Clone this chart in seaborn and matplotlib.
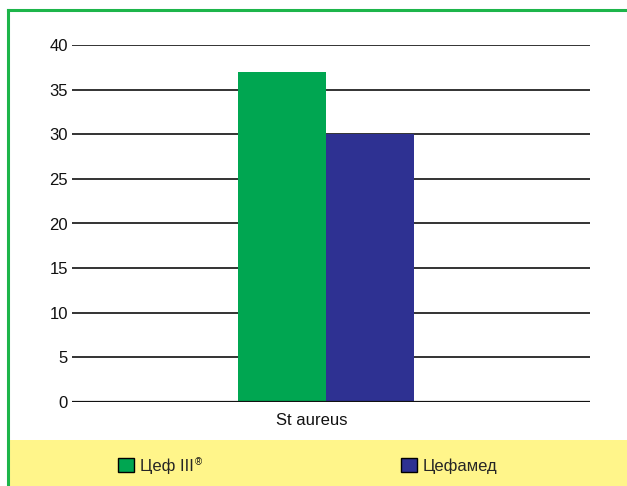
import matplotlib
matplotlib.use("Agg")
import matplotlib.pyplot as plt
import matplotlib.transforms as mtransforms
import seaborn as sns
import pandas as pd
from matplotlib.lines import Line2D
from matplotlib.patches import Rectangle

categories = ["St aureus"]
series_names = ["Цеф III", "Цефамед"]
values_cef3 = [37]
values_cefamed = [30]
y_ticks = [0, 5, 10, 15, 20, 25, 30, 35, 40]

df = pd.DataFrame({
    "cat": categories * 2,
    "series": [series_names[0]] * len(categories) + [series_names[1]] * len(categories),
    "value": values_cef3 + values_cefamed,
})

sns.set_theme(style="white")
plt.rcParams["font.family"] = ["Liberation Sans Narrow", "Liberation Sans", "DejaVu Sans"]

W, H = 627, 486
fig = plt.figure(figsize=(6.27, 4.86), dpi=100)
fig.patch.set_facecolor("white")

# yellow legend band
fig.patches.append(Rectangle((8 / W, 0), 1 - 8 / W, 46 / H, transform=fig.transFigure,
                             facecolor="#FFF58A", edgecolor="none", zorder=0))
# green frame (left and top)
fig.add_artist(Line2D([8 / W, 8 / W], [0, 1 - 10 / H], transform=fig.transFigure,
                      color="#1DB54A", lw=2.2, solid_capstyle="projecting"))
fig.add_artist(Line2D([8 / W, 1], [1 - 10 / H, 1 - 10 / H], transform=fig.transFigure,
                      color="#1DB54A", lw=2.2, solid_capstyle="projecting"))

ax = fig.add_axes([72 / W, 1 - 402 / H, 518 / W, 357 / H])
ax.set_facecolor("none")
sns.barplot(data=df, x="cat", y="value", hue="series", hue_order=series_names,
            palette=["#00A651", "#2E3192"], saturation=1, width=0.34, linewidth=0, ax=ax,
            errorbar=None, zorder=3)

ax.set_ylim(0, 40)
ax.set_xlim(-0.49, 0.51)
ax.set_yticks(y_ticks)
ax.set_yticklabels([str(t) for t in y_ticks], fontsize=12, color="#111111")
ax.tick_params(axis="y", length=0, pad=3)
ax.tick_params(axis="x", length=0, pad=8, labelsize=12, labelcolor="#111111")
for lbl in ax.get_xticklabels():
    lbl.set_transform(lbl.get_transform() + mtransforms.ScaledTranslation(-0.14, 0, fig.dpi_scale_trans))
ax.set_xlabel("")
ax.set_ylabel("")
for s in ax.spines.values():
    s.set_visible(False)
ax.yaxis.grid(True, color="#333333", linewidth=1.4)
ax.set_axisbelow(True)
ax.axhline(0, color="#111111", linewidth=1.6, zorder=4)

handles, labels = ax.get_legend_handles_labels()
ax.get_legend().remove()
for h in handles:
    h.set_edgecolor("black")
    h.set_linewidth(1.0)

leg_x = [118, 401]
legs = []
for h, l, x in zip(handles, labels, leg_x):
    lg = fig.legend([h], [l], frameon=False, loc="center left",
                    bbox_to_anchor=(x / W, 1 - 466 / H), borderpad=0, borderaxespad=0,
                    handlelength=0.96, handleheight=0.9, handletextpad=0.35,
                    fontsize=12)
    legs.append(lg)

fig.canvas.draw()
bb = legs[0].get_texts()[0].get_window_extent()
fig.text((bb.x1 + 1) / W, (bb.y1 + 1) / H, "®", fontsize=7, ha="left", va="top", color="#111111")

fig.savefig("out.png", dpi=100)
